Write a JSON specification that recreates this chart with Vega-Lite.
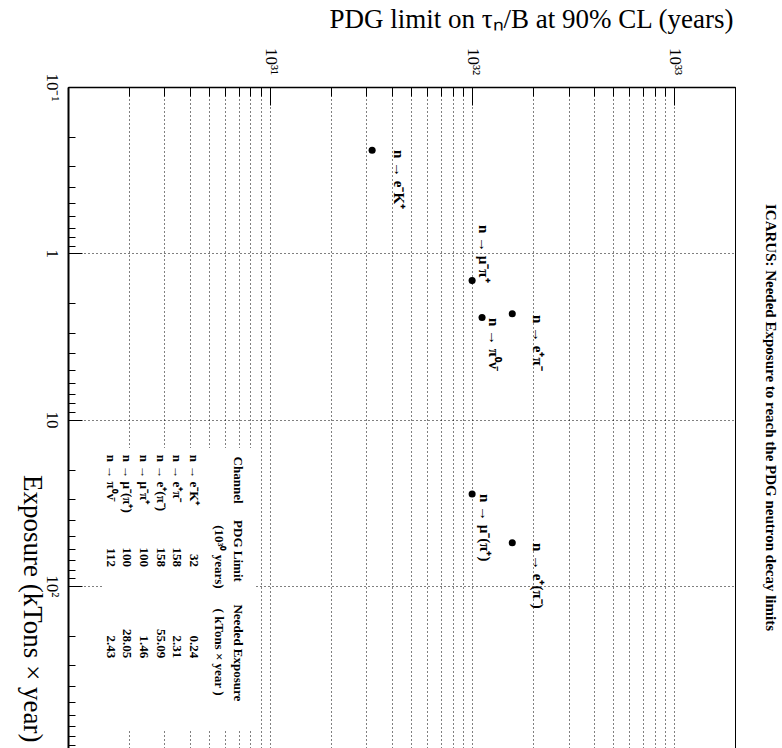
{
  "$schema": "https://vega.github.io/schema/vega-lite/v6.json",
  "width": 667,
  "height": 661,
  "autosize": "none",
  "padding": {"left": 68, "top": 87, "right": 47, "bottom": 0},
  "background": "white",
  "config": {"view": {"stroke": "black", "strokeWidth": 1}, "font": "Liberation Serif"},
  "title": {
    "text": "ICARUS: Needed Exposure to reach the PDG neutron decay limits",
    "orient": "right", "anchor": "middle", "angle": 90, "baseline": "middle",
    "offset": 12, "frame": "group", "font": "Liberation Serif", "fontSize": 15,
    "fontWeight": "bold", "color": "black"
  },
  "datasets": {
    "points": [
      {"channel": "n → e⁻K⁺", "lim": 3.2e31, "exp": 0.24},
      {"channel": "n → e⁺π⁻", "lim": 1.58e32, "exp": 2.31},
      {"channel": "n → e⁺(π⁻)", "lim": 1.58e32, "exp": 55.09},
      {"channel": "n → μ⁻π⁺", "lim": 1.0e32, "exp": 1.46},
      {"channel": "n → μ⁻(π⁺)", "lim": 1.0e32, "exp": 28.05},
      {"channel": "n → π⁰ν̄", "lim": 1.12e32, "exp": 2.43}
    ],
    "labels": [
      {"label": "n → e⁻K⁺", "lim": 4.34e31, "exp": 0.239},
      {"label": "n → μ⁻π⁺", "lim": 1.146e32, "exp": 0.676},
      {"label": "n → π⁰ν̄", "lim": 1.282e32, "exp": 2.45},
      {"label": "n → e⁺π⁻", "lim": 2.12e32, "exp": 2.35},
      {"label": "n → μ⁻(π⁺)", "lim": 1.16e32, "exp": 28.0},
      {"label": "n → e⁺(π⁻)", "lim": 2.12e32, "exp": 55.2}
    ],
    "table": [
      {"channel": "n → e⁻K⁺", "pdg": "32", "need": "0.24", "row": 4.20e30},
      {"channel": "n → e⁺π⁻", "pdg": "158", "need": "2.31", "row": 3.48e30},
      {"channel": "n → e⁺(π⁻)", "pdg": "158", "need": "55.09", "row": 2.88e30},
      {"channel": "n → μ⁻π⁺", "pdg": "100", "need": "1.46", "row": 2.38e30},
      {"channel": "n → μ⁻(π⁺)", "pdg": "100", "need": "28.05", "row": 1.97e30},
      {"channel": "n → π⁰ν̄", "pdg": "112", "need": "2.43", "row": 1.63e30}
    ],
    "headers": [
      {"text": "Channel", "lim": 6.93e30, "exp": 23.1},
      {"text": "PDG Limit", "lim": 6.93e30, "exp": 61.7},
      {"text": "(10³⁰ years)", "lim": 5.58e30, "exp": 67.0},
      {"text": "Needed Exposure", "lim": 6.93e30, "exp": 253},
      {"text": "( kTons × year )", "lim": 5.58e30, "exp": 250}
    ],
    "box": [{"lim": 1.49e30, "lim2": 8.42e30, "exp": 14.8, "exp2": 735}]
  },
  "layer": [
    {
      "data": {"name": "points"},
      "mark": {"type": "point", "filled": true, "color": "black", "opacity": 1, "size": 50},
      "encoding": {
        "x": {
          "field": "lim", "type": "quantitative",
          "title": "PDG limit on τₙ/B at 90% CL (years)",
          "scale": {"type": "log", "domain": [1e30, 2e33], "nice": false},
          "axis": {
            "orient": "top",
            "values": [1e30,2e30,3e30,4e30,5e30,6e30,7e30,8e30,9e30,1e31,2e31,3e31,4e31,5e31,6e31,7e31,8e31,9e31,1e32,2e32,3e32,4e32,5e32,6e32,7e32,8e32,9e32,1e33,2e33],
            "labelExpr": "datum.value == 1e31 ? '10³¹' : datum.value == 1e32 ? '10³²' : datum.value == 1e33 ? '10³³' : ''",
            "labelAngle": 90, "labelAlign": "center", "labelBaseline": "middle",
            "labelPadding": 44, "labelFont": "Liberation Serif", "labelFontSize": 17, "labelColor": "black",
            "labelOverlap": false, "labelBound": false, "labelFlush": false,
            "domain": true, "domainColor": "black", "domainWidth": 1.5,
            "ticks": true, "tickColor": "black", "tickWidth": 1,
            "tickSize": {"condition": {"test": "abs(log(datum.value)/LN10 - round(log(datum.value)/LN10)) < 1e-6", "value": -18}, "value": -9},
            "grid": true, "gridColor": "black", "gridDash": [1, 3], "gridWidth": 1, "gridOpacity": 1,
            "titleFont": "Liberation Serif", "titleFontSize": 27, "titleFontWeight": "normal", "titleColor": "black",
            "titleAngle": 0, "titleAlign": "right", "titleBaseline": "alphabetic", "titleX": 665, "titleY": -60
          }
        },
        "y": {
          "field": "exp", "type": "quantitative",
          "title": "Exposure (kTons × year)",
          "scale": {"type": "log", "domain": [0.1, 944], "nice": false, "reverse": true},
          "axis": {
            "orient": "left",
            "values": [0.1,0.2,0.3,0.4,0.5,0.6,0.7,0.8,0.9,1,2,3,4,5,6,7,8,9,10,20,30,40,50,60,70,80,90,100,200,300,400,500,600,700,800,900],
            "labelExpr": "datum.value == 0.1 ? '10⁻¹' : datum.value == 1 ? '1' : datum.value == 10 ? '10' : datum.value == 100 ? '10²' : ''",
            "labelAngle": 90, "labelAlign": "center", "labelBaseline": "middle",
            "labelPadding": 31, "labelFont": "Liberation Serif", "labelFontSize": 17, "labelColor": "black",
            "labelOverlap": false, "labelBound": false, "labelFlush": false,
            "domain": true, "domainColor": "black", "domainWidth": 2,
            "ticks": true, "tickColor": "black", "tickWidth": 1,
            "tickSize": {"condition": {"test": "abs(log(datum.value)/LN10 - round(log(datum.value)/LN10)) < 1e-6", "value": -14}, "value": -7},
            "grid": true, "gridColor": "black", "gridDash": [1, 3], "gridWidth": 1,
            "gridOpacity": {"condition": {"test": "abs(log(datum.value)/LN10 - round(log(datum.value)/LN10)) < 1e-6", "value": 1}, "value": 0},
            "titleFont": "Liberation Serif", "titleFontSize": 27, "titleFontWeight": "normal", "titleColor": "black",
            "titleAngle": 90, "titleAlign": "right", "titleBaseline": "middle", "titleX": -37, "titleY": 655
          }
        }
      }
    },
    {
      "data": {"name": "box"},
      "mark": {"type": "rect", "fill": "white", "stroke": null},
      "encoding": {
        "x": {"field": "lim", "type": "quantitative", "title": "PDG limit on τₙ/B at 90% CL (years)", "scale": {"type": "log", "domain": [1e30, 2e33], "nice": false}},
        "x2": {"field": "lim2"},
        "y": {"field": "exp", "type": "quantitative", "title": "Exposure (kTons × year)", "scale": {"type": "log", "domain": [0.1, 944], "nice": false, "reverse": true}},
        "y2": {"field": "exp2"}
      }
    },
    {
      "data": {"name": "labels"},
      "mark": {"type": "text", "angle": 90, "align": "left", "baseline": "middle", "font": "Liberation Serif", "fontWeight": "bold", "fontSize": 15, "color": "black"},
      "encoding": {
        "x": {"field": "lim", "type": "quantitative", "title": "PDG limit on τₙ/B at 90% CL (years)", "scale": {"type": "log", "domain": [1e30, 2e33], "nice": false}},
        "y": {"field": "exp", "type": "quantitative", "title": "Exposure (kTons × year)", "scale": {"type": "log", "domain": [0.1, 944], "nice": false, "reverse": true}},
        "text": {"field": "label"}
      }
    },
    {
      "data": {"name": "headers"},
      "mark": {"type": "text", "angle": 90, "align": "center", "baseline": "middle", "font": "Liberation Serif", "fontWeight": "bold", "fontSize": 13, "color": "black"},
      "encoding": {
        "x": {"field": "lim", "type": "quantitative", "title": "PDG limit on τₙ/B at 90% CL (years)", "scale": {"type": "log", "domain": [1e30, 2e33], "nice": false}},
        "y": {"field": "exp", "type": "quantitative", "title": "Exposure (kTons × year)", "scale": {"type": "log", "domain": [0.1, 944], "nice": false, "reverse": true}},
        "text": {"field": "text"}
      }
    },
    {
      "data": {"name": "table"},
      "mark": {"type": "text", "angle": 90, "align": "left", "baseline": "middle", "font": "Liberation Serif", "fontWeight": "bold", "fontSize": 13, "color": "black"},
      "encoding": {
        "x": {"field": "row", "type": "quantitative", "title": "PDG limit on τₙ/B at 90% CL (years)", "scale": {"type": "log", "domain": [1e30, 2e33], "nice": false}},
        "y": {"datum": 16.3, "type": "quantitative", "scale": {"type": "log", "domain": [0.1, 944], "nice": false, "reverse": true}},
        "text": {"field": "channel"}
      }
    },
    {
      "data": {"name": "table"},
      "mark": {"type": "text", "angle": 90, "align": "right", "baseline": "middle", "font": "Liberation Serif", "fontWeight": "bold", "fontSize": 13, "color": "black"},
      "encoding": {
        "x": {"field": "row", "type": "quantitative", "title": "PDG limit on τₙ/B at 90% CL (years)", "scale": {"type": "log", "domain": [1e30, 2e33], "nice": false}},
        "y": {"datum": 76.9, "type": "quantitative", "scale": {"type": "log", "domain": [0.1, 944], "nice": false, "reverse": true}},
        "text": {"field": "pdg"}
      }
    },
    {
      "data": {"name": "table"},
      "mark": {"type": "text", "angle": 90, "align": "right", "baseline": "middle", "font": "Liberation Serif", "fontWeight": "bold", "fontSize": 13, "color": "black"},
      "encoding": {
        "x": {"field": "row", "type": "quantitative", "title": "PDG limit on τₙ/B at 90% CL (years)", "scale": {"type": "log", "domain": [1e30, 2e33], "nice": false}},
        "y": {"datum": 272, "type": "quantitative", "scale": {"type": "log", "domain": [0.1, 944], "nice": false, "reverse": true}},
        "text": {"field": "need"}
      }
    }
  ]
}
